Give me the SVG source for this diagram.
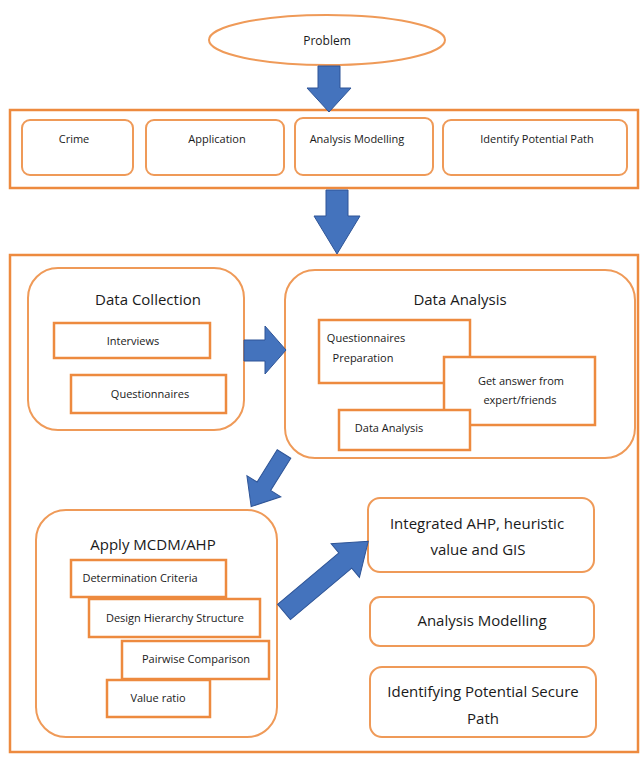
<svg xmlns="http://www.w3.org/2000/svg" width="641" height="758" viewBox="0 0 641 758">
<style>
.c{fill:none;stroke:#ed8a3f;stroke-width:2.5}
.b{fill:#fff;stroke:#ed8a3f;stroke-width:2.5}
.r{fill:#fff;stroke:#ef9a58;stroke-width:2}
.a{fill:#4473bd;stroke:#2f5597;stroke-width:1}
text{font-family:"Open Sans","Liberation Sans",sans-serif;fill:#1a1a1a;text-anchor:middle}
.s{font-size:11px}
.m{font-size:12px}
.t{font-size:15px}
</style>
<rect width="641" height="758" fill="#fff"/>
<g id="problem"><ellipse cx="327" cy="40" rx="118" ry="25" class="r"/><text x="327" y="45" class="m" font-size="13">Problem</text></g>
<g id="top-container"><rect x="10" y="110" width="628" height="78" class="c"/></g>
<g id="crime"><rect x="22" y="120" width="111" height="55" rx="8" class="r"/><text x="74" y="143" class="s">Crime</text></g>
<g id="application"><rect x="146" y="120" width="138" height="55" rx="8" class="r"/><text x="217" y="143" class="s">Application</text></g>
<g id="analysis-modelling-top"><rect x="295" y="118" width="138" height="57" rx="8" class="r"/><text x="357" y="143" class="s">Analysis Modelling</text></g>
<g id="identify-path"><rect x="443" y="120" width="184" height="55" rx="8" class="r"/><text x="537" y="143" class="s">Identify Potential Path</text></g>
<g id="main-container"><rect x="10" y="255" width="628" height="497" class="c"/></g>
<g id="data-collection"><rect x="28" y="268" width="216" height="162" rx="30" class="r"/><text x="148" y="305" class="t">Data Collection</text>
<rect x="54" y="323" width="156" height="35" class="b"/><text x="133" y="345" class="s">Interviews</text>
<rect x="71" y="375" width="155" height="38" class="b"/><text x="150" y="398" class="s">Questionnaires</text></g>
<g id="data-analysis"><rect x="285" y="270" width="350" height="188" rx="30" class="r"/><text x="460" y="305" class="t">Data Analysis</text>
<rect x="319" y="320" width="151" height="63" class="b"/><text x="366" y="342" class="s">Questionnaires</text><text x="363" y="362" class="s">Preparation</text>
<rect x="444" y="357" width="151" height="68" class="b"/><text x="521" y="385" class="s">Get answer from</text><text x="520" y="404" class="s">expert/friends</text>
<rect x="339" y="410" width="131" height="40" class="b"/><text x="389" y="432" class="s">Data Analysis</text></g>
<g id="apply-mcdm"><rect x="36" y="510" width="241" height="227" rx="30" class="r"/><text x="153" y="550" class="t">Apply MCDM/AHP</text>
<rect x="71" y="560" width="155" height="37" class="b"/><text x="140" y="582" class="s">Determination Criteria</text>
<rect x="89" y="599" width="171" height="38" class="b"/><text x="175" y="622" class="s">Design Hierarchy Structure</text>
<rect x="122" y="641" width="147" height="38" class="b"/><text x="196" y="663" class="s">Pairwise Comparison</text>
<rect x="107" y="680" width="103" height="37" class="b"/><text x="158" y="702" class="s">Value ratio</text></g>
<g id="integrated"><rect x="368" y="498" width="226" height="74" rx="12" class="r"/><text x="477" y="529" class="t" font-size="14">Integrated AHP, heuristic</text><text x="478" y="555" class="t" font-size="14">value and GIS</text></g>
<g id="analysis-modelling"><rect x="370" y="597" width="224" height="49" rx="10" class="r"/><text x="482" y="626" class="t" font-size="14">Analysis Modelling</text></g>
<g id="identifying-secure"><rect x="370" y="667" width="226" height="70" rx="12" class="r"/><text x="483" y="697" class="t" font-size="14">Identifying Potential Secure</text><text x="483" y="724" class="t" font-size="14">Path</text></g>
<g id="connectors">
<polygon class="a" points="318,66 340,66 340,88 351,88 329,112 307,88 318,88"/>
<polygon class="a" points="326,190 348,190 348,216 360,216 337,254 314,216 326,216"/>
<polygon class="a" points="244,340 265,340 265,326 286,350 265,374 265,361 244,361"/>
<polygon class="a" points="0,-8 38,-8 38,-20 62,0 38,20 38,8 0,8" transform="translate(284,454) rotate(122)"/>
<polygon class="a" points="0,-10 80,-10 80,-22 110,0 80,22 80,10 0,10" transform="translate(284,612) rotate(-40)"/>
</g>
</svg>
